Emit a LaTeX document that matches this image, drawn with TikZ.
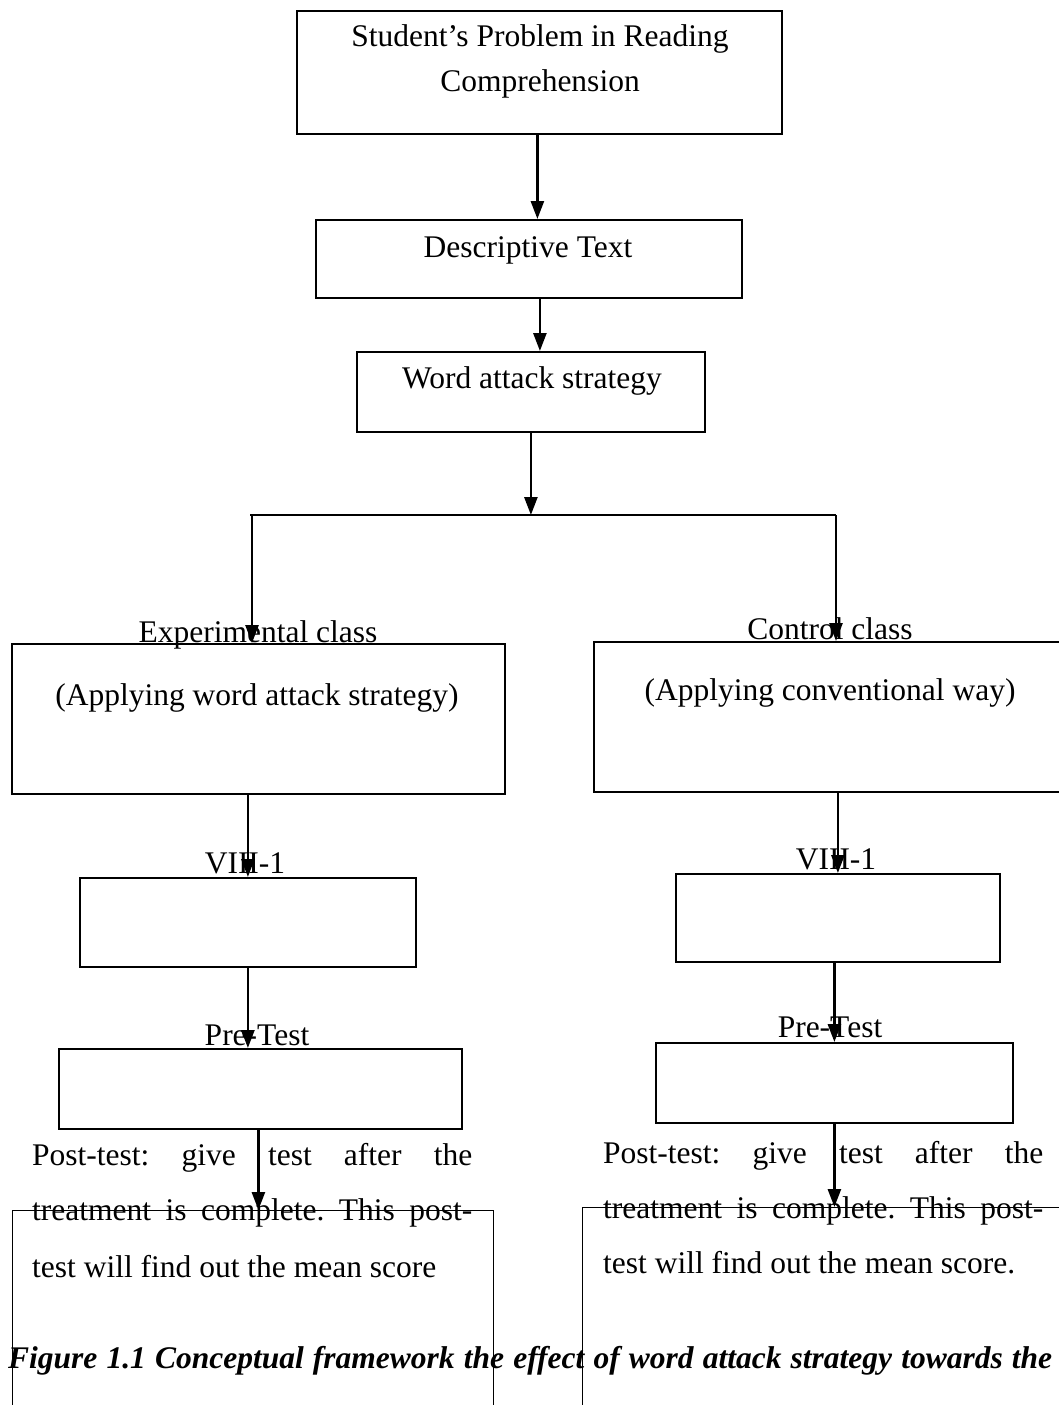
\documentclass[tikz,border=0pt]{standalone}
\usepackage{fontspec}
\setmainfont{Liberation Serif}
\usetikzlibrary{arrows.meta}
\frenchspacing
\begin{document}
\begin{tikzpicture}[x=1pt,y=-1pt,
  box/.style={draw, line width=1.8pt, inner sep=0pt, anchor=north west},
  thinbox/.style={box, line width=1.3pt},
  arr/.style={line width=2.6pt, -{Triangle[length=18pt,width=13pt]}},
  lbl/.style={anchor=base, inner sep=0pt, font=\fontsize{31.5}{38}\selectfont},
  para/.style={anchor=base west, inner sep=0pt, font=\fontsize{31.5}{38}\selectfont},
  captext/.style={anchor=base west, inner sep=0pt, font=\fontsize{31.5}{38}\selectfont\bfseries\itshape}]
\useasboundingbox (0,0) rectangle (1059,1405);
\clip (0,0) rectangle (1059,1405);
% texts
\node[lbl] (t1a) at (540,47) {Student’s Problem in Reading};
\node[lbl] (t1b) at (540,91) {Comprehension};
\node[lbl] (t2) at (528,257) {Descriptive Text};
\node[lbl] (t3) at (532,388) {Word attack strategy};
\node[lbl] (lexp) at (258,642) {Experimental class};
\node[lbl] (lcon) at (830,639) {Control class};
\node[lbl] (t4l) at (257,705) {(Applying word attack strategy)};
\node[lbl] (t4r) at (830,700) {(Applying conventional way)};
\node[lbl] (l5l) at (245,873) {VIII-1};
\node[lbl] (l5r) at (836,869) {VIII-1};
\node[lbl] (l6l) at (257,1045) {Pre-Test};
\node[lbl] (l6r) at (830,1037) {Pre-Test};
\node[para] (p1) at (32,1165) {\makebox[440pt][s]{Post-test: give test after the}};
\node[para] (p2) at (32,1220) {\makebox[440pt][s]{treatment is complete. This post-}};
\node[para] (p3) at (32,1277) {test will find out the mean score};
\node[para] (q1) at (603,1163) {\makebox[440pt][s]{Post-test: give test after the}};
\node[para] (q2) at (603,1218) {\makebox[440pt][s]{treatment is complete. This post-}};
\node[para] (q3) at (603,1273) {test will find out the mean score.};
\node[captext] (caption) at (8,1368) {\makebox[1044pt][s]{Figure 1.1 Conceptual framework the effect of word attack strategy towards the}};
% boxes
\node[box, minimum width=485pt, minimum height=123pt] (b1) at (296,10) {};
\node[box, minimum width=426pt, minimum height=78pt] (b2) at (315,219) {};
\node[box, minimum width=348pt, minimum height=80pt] (b3) at (356,351) {};
\node[box, minimum width=493pt, minimum height=150pt] (b4L) at (11,643) {};
\node[box, minimum width=500pt, minimum height=150pt] (b4R) at (593,641) {};
\node[box, minimum width=336pt, minimum height=89pt] (b5L) at (79,877) {};
\node[box, minimum width=324pt, minimum height=88pt] (b5R) at (675,873) {};
\node[box, minimum width=403pt, minimum height=80pt] (b6L) at (58,1048) {};
\node[box, minimum width=357pt, minimum height=80pt] (b6R) at (655,1042) {};
\node[thinbox, minimum width=481pt, minimum height=250pt] (b7L) at (12,1210) {};
\node[thinbox, minimum width=500pt, minimum height=250pt] (b7R) at (582,1207) {};
\coordinate (jl) at (252,515);
\coordinate (jr) at (836,515);
% connectors
\draw[arr] ([xshift=-2pt]b1.south) -- ([xshift=-2pt]b1.south |- b2.north);
\draw[arr] ([xshift=11pt]b2.south) -- ([xshift=11pt]b2.south |- b3.north);
\draw[arr] (b3.south) -- (b3.south |- jl);
\draw[line width=2pt] ([xshift=-2pt]jl) -- (jr);
\draw[arr] (jl) -- (jl |- b4L.north);
\draw[arr] (jr) -- (jr |- b4R.north);
\draw[arr] (b5L.north |- b4L.south) -- (b5L.north);
\draw[arr] (b5R.north |- b4R.south) -- (b5R.north);
\draw[arr] (b5L.south) -- (b5L.south |- b6L.north);
\draw[arr] (b6R.north |- b5R.south) -- (b6R.north);
\draw[arr] ([xshift=-2pt]b6L.south) -- ([xshift=-2pt]b6L.south |- b7L.north);
\draw[arr] (b6R.south) -- (b6R.south |- b7R.north);
\end{tikzpicture}
\end{document}
